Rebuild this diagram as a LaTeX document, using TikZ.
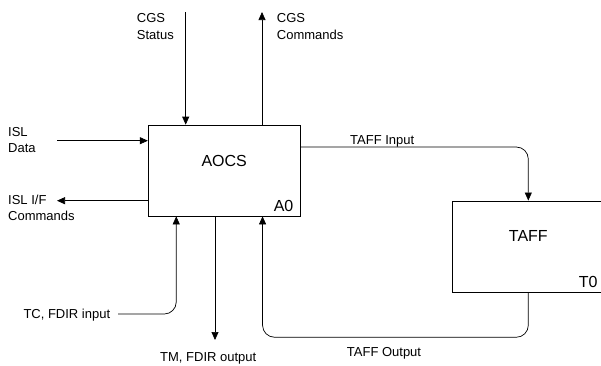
\documentclass[tikz,border=0pt]{standalone}
\usepackage{fontspec}
\setmainfont{Liberation Sans}
\usetikzlibrary{arrows.meta,positioning,calc}

\begin{document}
\begin{tikzpicture}[x=1pt,y=-1pt,
    flow/.style={-{Triangle[length=8pt,width=7pt]}, line width=0.7pt},
    block/.style={draw, line width=0.7pt, minimum width=152pt, minimum height=91pt, inner sep=0pt},
    lbl/.style={font=\fontsize{13}{16.5}\selectfont, align=left, inner sep=0pt, anchor=base west},
    big/.style={font=\fontsize{16}{19}\selectfont, inner sep=0pt}]
    \clip (0,0) rectangle (601,365);

    % Activity boxes
    \node[block] (aocs) at (224.2,170.5) {};
    \node[big] (aocsname) at ($(aocs.center)+(0,-10)$) {AOCS};
    \node[big, anchor=base east] (aocsid) at ($(aocs.south east)+(-7,-5)$) {A0};

    \node[block] (taff) at (528.3,246.4) {};
    \node[big] (taffname) at ($(taff.center)+(0,-10)$) {TAFF};
    \node[big, anchor=base east] (taffid) at ($(taff.south east)+(-7,-5)$) {T0};

    % Free ends of the connectors
    \coordinate (cgsS) at (185.7,12);
    \coordinate (cgsC) at (262,12);
    \coordinate (islD) at (57,140.7);
    \coordinate (islC) at (57,200.7);
    \coordinate (tcin) at (118,314);
    \coordinate (tmout) at (215,340);

    % Labels (base = last line)
    \node[lbl] (cgsSlbl) at (136.7,39.3) {CGS\\Status};
    \node[lbl] (cgsClbl) at (276.7,39.3) {CGS\\Commands};
    \node[lbl] (islDlbl) at (8,152.7) {ISL\\Data};
    \node[lbl] (islClbl) at (8,220.7) {ISL I/F\\Commands};
    \node[lbl] (tclbl) at (23.3,318.3) {TC, FDIR input};
    \node[lbl] (tmlbl) at (160,361.5) {TM, FDIR output};
    \node[lbl] (tafflbl) at (350,144) {TAFF Input};
    \node[lbl] (taffolbl) at (346.7,356.7) {TAFF Output};

    % Connectors
    \draw[flow] (cgsS) -- (cgsS |- aocs.north);
    \draw[flow] (cgsC |- aocs.north) -- (cgsC);
    \draw[flow] (islD) -- (islD -| aocs.west);
    \draw[flow] (islC -| aocs.west) -- (islC);
    \draw[flow, rounded corners=12pt] (tcin) -| ($(aocs.south west)+(28.4,0)$);
    \draw[flow] (tmout |- aocs.south) -- (tmout);
    \draw[flow, rounded corners=12pt] ($(aocs.east)+(0,-23.5)$) -| (taff.north);
    \draw[flow, rounded corners=12pt] (taff.south) -- ++(0,45) -| ($(aocs.south east)+(-38,0)$);
\end{tikzpicture}
\end{document}
